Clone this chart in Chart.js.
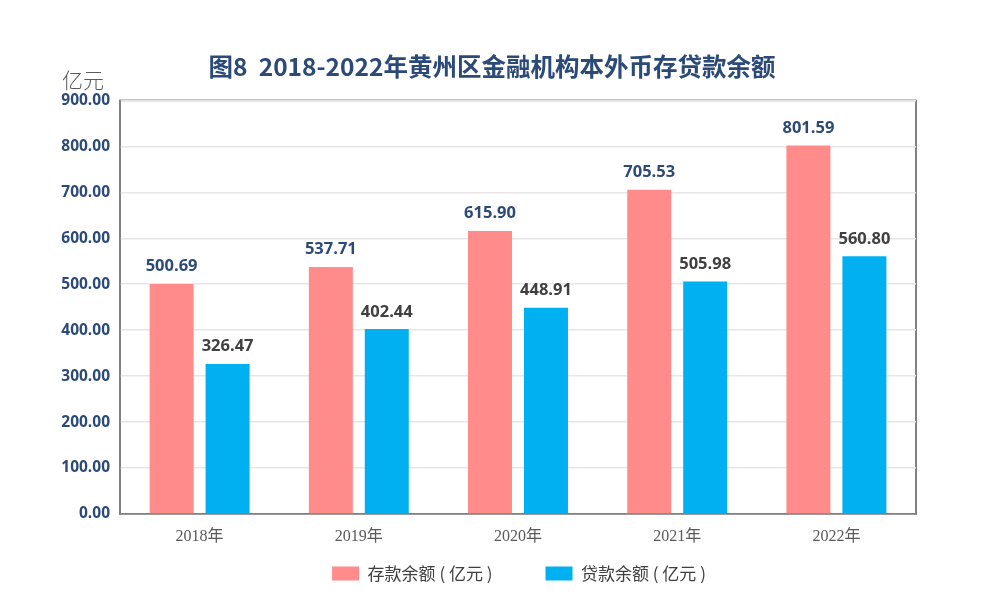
<!DOCTYPE html>
<html>
<head>
<meta charset="utf-8">
<script src="https://cdn.jsdelivr.net/npm/chart.js@4.4.1/dist/chart.umd.min.js"></script>
<style>
  html, body { margin: 0; padding: 0; background: #fff; }
  #wrap { width: 1002px; height: 613px; position: relative; }
</style>
</head>
<body>
<div id="wrap"><canvas id="grafica"></canvas></div>
<script>
"use strict";
const anios = ["2018年", "2019年", "2020年", "2021年", "2022年"];
const depositos = [500.69, 537.71, 615.90, 705.53, 801.59];
const prestamos = [326.47, 402.44, 448.91, 505.98, 560.80];
const ejeMin = 0;
const ejeMax = 900;
const ejePaso = 100;

const colorTitulo = '#2B4A78';
const colorGris = '#595959';

// etiquetas encima de cada barra + marco del área
const etiquetasBarras = {
    id: 'etiquetasBarras',
    afterLayout(chart) {
        // mover título y leyenda, como en el original
        chart.titleBlock.left += 9;
        chart.titleBlock.right += 9;
        chart.legend.left += 36;
        chart.legend.right += 36;
        chart.legend.top = 512;
        chart.legend.bottom = 613;
    },
    beforeDraw(chart) {
        const { ctx, chartArea } = chart;
        ctx.save();
        ctx.strokeStyle = '#595959';
        ctx.lineWidth = 1.5;
        ctx.strokeRect(chartArea.left, chartArea.top, chartArea.right - chartArea.left, chartArea.bottom - chartArea.top);
        ctx.restore();
    },
    afterDatasetsDraw(chart) {
        const ctx = chart.ctx;
        ctx.save();
        ctx.font = 'bold 16.5px "Open Sans", "Noto Sans", sans-serif';
        ctx.textAlign = 'center';
        ctx.textBaseline = 'bottom';
        chart.data.datasets.forEach((ds, i) => {
            const meta = chart.getDatasetMeta(i);
            ctx.fillStyle = i === 0 ? colorTitulo : '#404040';
            meta.data.forEach((bar, j) => {
                ctx.fillText(ds.data[j].toFixed(2), bar.x, bar.y - 9);
            });
        });
        ctx.fillStyle = colorGris;
        ctx.font = '300 21px "Noto Sans CJK SC", sans-serif';
        ctx.textAlign = 'left';
        ctx.textBaseline = 'middle';
        ctx.fillText('亿元', 62, 80);
        ctx.restore();
    }
};

new Chart(document.getElementById('grafica'), {
    type: 'bar',
    data: {
        labels: anios,
        datasets: [{
            label: '存款余额 ( 亿元 )',
            data: depositos,
            backgroundColor: '#FF8B8B',
            barPercentage: 0.786,
            categoryPercentage: 0.703
        }, {
            label: '贷款余额 ( 亿元 )',
            data: prestamos,
            backgroundColor: '#00B0F0',
            barPercentage: 0.786,
            categoryPercentage: 0.703
        }]
    },
    options: {
        responsive: true,
        maintainAspectRatio: false,
        animation: false,
        layout: { padding: { left: 50, right: 86, top: 0, bottom: 0 } },
        plugins: {
            title: {
                display: true,
                text: '图8  2018-2022年黄州区金融机构本外币存贷款余额',
                color: colorTitulo,
                font: { family: '"Noto Sans CJK SC", sans-serif', size: 24.5, weight: 'bold' },
                padding: { top: 52, bottom: 19 }
            },
            legend: {
                position: 'bottom',
                maxHeight: 65,
                labels: {
                    color: '#404040',
                    font: { family: '"Noto Sans CJK SC", sans-serif', size: 17 },
                    boxWidth: 27,
                    boxHeight: 14,
                    padding: 53
                }
            },
            tooltip: { enabled: false }
        },
        scales: {
            x: {
                afterFit(scale) { scale.height = 34; },
                grid: { display: false },
                border: { color: '#808080', width: 1.5 },
                ticks: {
                    color: '#595959',
                    font: { family: '"Liberation Serif", "Noto Sans CJK SC", serif', size: 16 },
                    padding: 5
                }
            },
            y: {
                min: ejeMin,
                max: ejeMax,
                afterFit(scale) { scale.width = 70; },
                grid: { color: '#E6E6E6', lineWidth: 1.5, drawTicks: false },
                border: { color: '#808080', width: 1.5 },
                ticks: {
                    stepSize: ejePaso,
                    color: colorTitulo,
                    padding: 10,
                    font: { family: '"Open Sans", "Noto Sans", sans-serif', size: 15.5, weight: 'bold' },
                    callback: v => v.toFixed(2)
                }
            }
        }
    },
    plugins: [etiquetasBarras]
});
</script>
</body>
</html>
